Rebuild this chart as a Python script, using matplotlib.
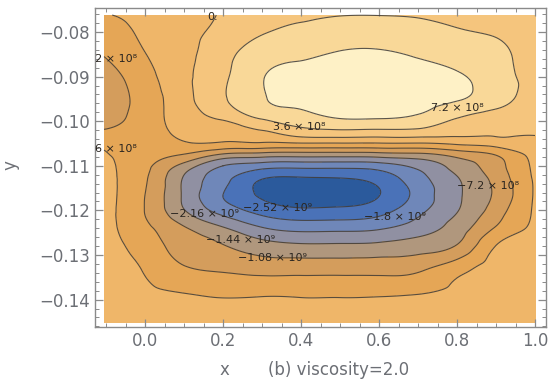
"""Contour map of the field for viscosity=2.0 (panel b)."""
import matplotlib
matplotlib.use("Agg")
import matplotlib.pyplot as plt
import matplotlib.tri as mtri
import numpy as np

# grid; values in units of 1e8
X = [-0.105, 0.0, 0.1, 0.2, 0.3, 0.4, 0.5, 0.6, 0.7, 0.8, 0.9, 1.0]
Y = [-0.1452, -0.139, -0.133, -0.128, -0.124, -0.120, -0.1165, -0.113, -0.110,
     -0.1075, -0.105, -0.1025, -0.099, -0.095, -0.090, -0.085, -0.080, -0.0762]
Z = [
    [-0.9, -1.9, -1.9, -1.9, -1.8, -1.8, -1.8, -1.8, -1.7, -1.5, -1.3, -1.0],
    [-1.3, -3.0, -3.4, -3.9, -3.8, -3.9, -3.9, -3.8, -3.5, -2.9, -2.0, -1.5],
    [-1.7, -3.9, -6.8, -7.8, -8.6, -8.6, -8.6, -8.6, -8.0, -5.0, -2.4, -2.0],
    [-2.0, -5.3, -8.8, -10.6, -12.8, -13.7, -13.7, -13.4, -12.5, -10.5, -3.5, -2.4],
    [-2.3, -6.4, -10.4, -14.0, -17.7, -19.1, -19.0, -18.4, -16.2, -12.7, -6.8, -2.8],
    [-2.4, -7.3, -14.2, -19.5, -23.0, -24.5, -24.3, -23.0, -19.0, -14.6, -9.0, -3.1],
    [-2.5, -7.2, -15.0, -21.6, -25.8, -27.4, -27.0, -25.3, -20.4, -15.0, -10.1, -3.2],
    [-2.6, -6.8, -14.8, -20.5, -25.2, -25.8, -25.5, -24.0, -19.4, -14.7, -9.6, -3.1],
    [-2.9, -6.3, -12.1, -18.0, -19.9, -20.3, -20.3, -19.7, -17.1, -12.9, -8.7, -2.8],
    [-3.2, -5.8, -7.4, -11.4, -12.4, -12.7, -12.7, -12.4, -11.8, -9.5, -7.0, -2.2],
    [-4.4, -5.5, -4.0, -4.2, -4.1, -3.9, -3.9, -3.9, -3.9, -3.0, -2.0, -1.2],
    [-6.6, -5.4, -2.6, -2.1, -0.5, 1.9, 2.5, 2.3, 2.2, 1.0, 0.5, 0.4],
    [-9.2, -5.5, -1.7, 0.8, 4.4, 6.1, 7.6, 7.7, 6.8, 3.9, 2.4, 1.6],
    [-9.7, -5.6, -1.2, 3.2, 6.9, 8.2, 9.6, 10.0, 8.8, 7.6, 4.8, 2.3],
    [-9.0, -4.9, -0.8, 2.9, 7.0, 8.3, 9.6, 10.0, 8.9, 7.8, 5.0, 2.5],
    [-7.0, -3.7, -0.9, 2.3, 5.6, 6.6, 7.6, 7.8, 6.8, 5.6, 4.3, 2.4],
    [-5.6, -2.9, -0.9, 1.0, 3.3, 4.4, 5.2, 5.3, 4.9, 3.9, 3.3, 2.0],
    [-3.8, -2.4, -1.0, 0.3, 2.1, 3.1, 3.5, 3.55, 3.3, 2.7, 2.3, 1.6],
]

LEVELS = [-25.2, -21.6, -18.0, -14.4, -10.8, -7.2, -3.6, 0.0, 3.6, 7.2]
BAND_COLORS = ["#2b5a9c", "#4a72b8", "#6f87b9", "#9090a2", "#b0977d",
               "#d49d5c", "#e5a656", "#efb669", "#f5c57d", "#f9d898", "#fef1c6"]

# contour labels as they appear (text, x, y, alignment)
LABELS = [
    ("0.", 0.172, -0.0767, "center"),
    ("\u22127.2 \u00d7 10\u2078", -0.020, -0.0861, "right"),
    ("\u22123.6 \u00d7 10\u2078", -0.022, -0.1062, "right"),
    ("3.6 \u00d7 10\u2078", 0.395, -0.1013, "center"),
    ("7.2 \u00d7 10\u2078", 0.800, -0.0970, "center"),
    ("\u22127.2 \u00d7 10\u2078", 0.879, -0.1145, "center"),
    ("\u22121.8 \u00d7 10\u2079", 0.641, -0.1215, "center"),
    ("\u22122.16 \u00d7 10\u2079", 0.240, -0.1207, "right"),
    ("\u22122.52 \u00d7 10\u2079", 0.250, -0.1194, "left"),
    ("\u22121.44 \u00d7 10\u2079", 0.244, -0.1266, "center"),
    ("\u22121.08 \u00d7 10\u2079", 0.326, -0.1307, "center"),
]

TICK_GREY = "#6c6f75"


def smooth_field():
    xx, yy = np.meshgrid(X, Y)
    z = np.array(Z).ravel()
    k = 100.0  # scale y so the triangles are not needle-thin
    tri = mtri.Triangulation(xx.ravel(), yy.ravel() * k)
    refiner = mtri.UniformTriRefiner(tri)
    fine, zf = refiner.refine_field(z, subdiv=4)
    fine = mtri.Triangulation(fine.x, fine.y / k, triangles=fine.triangles)
    return fine, zf


def main():
    fig = plt.figure(figsize=(5.54, 3.81), dpi=100)
    ax = fig.add_axes([0.1715, 0.1417, 0.8141, 0.8373])

    fine, zf = smooth_field()
    bounds = [-60.0] + LEVELS + [60.0]
    ax.tricontourf(fine, zf, levels=bounds, colors=BAND_COLORS)
    ax.tricontour(fine, zf, levels=LEVELS, colors="#3f3a35",
                  linewidths=0.8, alpha=0.85, linestyles="solid")

    for text, x, y, ha in LABELS:
        ax.text(x, y, text, ha=ha, va="center", fontsize=8,
                color="#2a2520", clip_on=True)

    ax.set_xlim(-0.1282, 1.0282)
    ax.set_ylim(-0.14614, -0.07462)
    ax.set_xticks(np.arange(0.0, 1.01, 0.2))
    ax.set_xticklabels([f"{v:.1f}" for v in np.arange(0.0, 1.01, 0.2)])
    ax.set_xticks(np.arange(-0.1, 1.001, 0.05), minor=True)
    ax.set_yticks(np.arange(-0.14, -0.0799, 0.01))
    ax.set_yticklabels([f"\u2212{abs(v):.2f}" for v in np.arange(-0.14, -0.0799, 0.01)])
    ax.set_yticks(np.arange(-0.146, -0.0745, 0.002), minor=True)
    ax.tick_params(which="both", direction="in", top=True, right=True,
                   color="#8a8a8a", labelsize=12, labelcolor=TICK_GREY)
    ax.tick_params(which="major", length=6, width=0.9)
    ax.tick_params(which="minor", length=3, width=0.7)
    for s in ax.spines.values():
        s.set_color("#8a8a8a")
        s.set_linewidth(1.0)

    fig.text(0.018, 0.567, "y", rotation=90, ha="center", va="center",
             fontsize=12, color=TICK_GREY)
    fig.text(0.406, 0.029, "x", ha="center", va="center", fontsize=12,
             color=TICK_GREY)
    fig.text(0.612, 0.029, "(b) viscosity=2.0", ha="center", va="center",
             fontsize=12, color=TICK_GREY)

    fig.savefig("out.png", dpi=100)


if __name__ == "__main__":
    main()
